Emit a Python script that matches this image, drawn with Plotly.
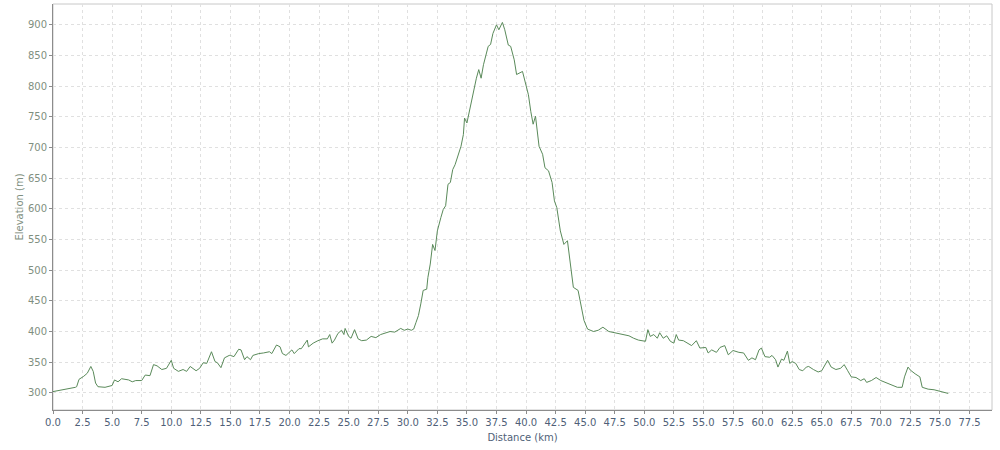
import plotly.graph_objects as go

distance_km = [
    0.0, 0.9, 1.9, 2.0, 2.2, 2.6, 2.9, 3.2, 3.4, 3.6, 3.8, 4.4, 5.0, 5.2, 5.5, 5.8,
    6.4, 6.7, 7.0, 7.5, 7.8, 8.2, 8.5, 8.8, 9.2, 9.6, 10.0, 10.2, 10.6, 11.0, 11.3,
    11.6, 11.8, 12.1, 12.4, 12.7, 13.0, 13.4, 13.7, 13.9, 14.2, 14.5, 14.9,
    15.0, 15.3, 15.7, 15.9, 16.2, 16.4, 16.7, 16.9, 17.4, 17.8, 18.3, 18.5, 18.9,
    19.2, 19.4, 19.7, 20.0, 20.2, 20.4, 20.8, 21.0, 21.3, 21.5, 21.6, 22.0, 22.4,
    22.8, 23.2, 23.4, 23.6, 23.8, 24.1, 24.4, 24.6, 24.7, 25.0, 25.2, 25.5, 25.8,
    26.1, 26.5, 26.9, 27.3, 27.7, 28.1, 28.5, 28.9, 29.4, 29.7, 30.0, 30.3, 30.5,
    30.7, 30.9, 31.1, 31.3, 31.6, 31.7, 31.9, 32.1, 32.3, 32.5, 32.8, 33.0, 33.2,
    33.4, 33.6, 33.8, 34.0, 34.2, 34.5, 34.7, 34.8, 35.0, 35.2, 35.4, 35.6, 35.8,
    36.0, 36.2, 36.4, 36.6, 36.8, 37.0, 37.2, 37.5, 37.7, 38.0, 38.2, 38.5, 38.7,
    39.0, 39.2, 39.7, 40.0, 40.2, 40.4, 40.6, 40.8, 41.1, 41.4, 41.6, 41.9, 42.2,
    42.4, 42.6, 42.9, 43.2, 43.5, 43.8, 44.0, 44.4, 44.6, 44.9, 45.2, 45.5, 45.7,
    46.1, 46.5, 47.0, 47.5, 48.1, 48.7, 49.1, 49.5, 50.1, 50.3, 50.5, 50.8, 51.1,
    51.3, 51.6, 51.9, 52.2, 52.5, 52.7, 52.9, 53.3, 53.7, 54.0, 54.4, 54.7, 55.2,
    55.4, 55.7, 56.1, 56.4, 56.8, 57.1, 57.5, 58.0, 58.4, 58.8, 59.1, 59.4, 59.7,
    59.9, 60.2, 60.6, 60.8, 61.1, 61.3, 61.6, 61.8, 62.1, 62.3, 62.5, 62.8, 63.1,
    63.4, 63.7, 63.9, 64.3, 64.7, 65.0, 65.3, 65.5, 65.8, 66.2, 66.6, 66.9, 67.2,
    67.5, 67.9, 68.3, 68.6, 68.8, 69.2, 69.6, 70.0, 70.4, 70.9, 71.4, 71.8, 72.0,
    72.3, 72.5, 72.9, 73.3, 73.5, 74.0, 74.5, 75.0, 75.4, 75.7,
]

elevation_m = [
    302, 305, 309, 310, 322, 327, 332, 343, 335, 316, 310, 309, 312, 321, 318, 323,
    321, 318, 320, 320, 329, 328, 346, 344, 338, 340, 353, 340, 335, 338, 335,
    343, 340, 336, 340, 349, 348, 367, 351, 349, 341, 357, 361,
    361, 359, 371, 370, 354, 359, 354, 361, 364, 365, 367, 364, 378,
    375, 364, 361, 367, 370, 364, 372, 372, 381, 386, 375, 381, 385,
    388, 388, 395, 381, 386, 397, 402, 395, 405, 392, 389, 403, 388,
    385, 386, 392, 390, 395, 397, 400, 399, 405, 402, 404, 402, 404,
    415, 426, 445, 467, 469, 488, 510, 542, 532, 564, 586, 599, 605,
    640, 643, 664, 672, 683, 702, 721, 748, 740, 759, 778, 800, 813,
    827, 813, 835, 851, 865, 868, 886, 900, 892, 904, 892, 867, 865,
    843, 819, 824, 800, 786, 759, 738, 751, 702, 689, 667, 662, 643,
    613, 602, 564, 542, 548, 505, 472, 467, 445, 418, 404, 402, 400,
    402, 407, 400, 398, 396, 393, 389, 386, 384, 403, 392, 395, 389,
    398, 389, 393, 384, 381, 395, 386, 385, 381, 377, 385, 373, 374,
    365, 370, 366, 374, 377, 362, 369, 366, 365, 353, 357, 354, 370,
    373, 359, 358, 361, 354, 342, 355, 353, 368, 348, 351, 348, 338,
    336, 342, 343, 338, 334, 336, 346, 353, 342, 338, 340, 346, 336,
    326, 325, 320, 323, 317, 320, 325, 320, 317, 312, 309, 309, 326,
    342, 337, 331, 326, 309, 306, 305, 303, 301, 299,
]

x_tick_step = 2.5
y_tick_step = 50

fig = go.Figure()
fig.add_trace(go.Scatter(
    x=distance_km, y=elevation_m, mode="lines",
    line=dict(color="#5a8a5a", width=1),
    hoverinfo="x+y", showlegend=False,
))

grid_color = "#e0e0e0"
fig.update_layout(
    width=1000, height=450,
    margin=dict(l=53, r=8, t=4, b=40),
    paper_bgcolor="white", plot_bgcolor="white",
    font=dict(family="DejaVu Sans", size=10),
    shapes=[dict(type="rect", xref="paper", yref="paper", x0=0, y0=0, x1=1, y1=1,
                 line=dict(color="#c8c8c8", width=1), layer="below")],
    xaxis=dict(
        range=[0, 79.4], tick0=0, dtick=x_tick_step, tickformat=".1f",
        automargin=False,
        showgrid=True, gridcolor=grid_color, griddash="3px,3px", gridwidth=1,
        zeroline=False, showline=True, linecolor="#8c8c8c", linewidth=1,
        ticks="outside", ticklen=3, tickcolor="#8c8c8c",
        tickfont=dict(color="#4f5f78", size=10),
        title=dict(text="Distance (km)", font=dict(color="#4f5f78", size=10), standoff=6),
    ),
    yaxis=dict(
        range=[272, 934], tick0=300, dtick=y_tick_step,
        automargin=False,
        showgrid=True, gridcolor=grid_color, griddash="3px,3px", gridwidth=1,
        zeroline=False, showline=True, linecolor="#8c8c8c", linewidth=1,
        ticks="outside", ticklen=3, tickcolor="#8c8c8c",
        tickfont=dict(color="#7f8f7f", size=10),
        title=dict(text="Elevation (m)", font=dict(color="#7f8f7f", size=10), standoff=2),
    ),
)

fig.write_html("out.html", config={"displayModeBar": False},
               post_script="document.body.style.margin='0';")
